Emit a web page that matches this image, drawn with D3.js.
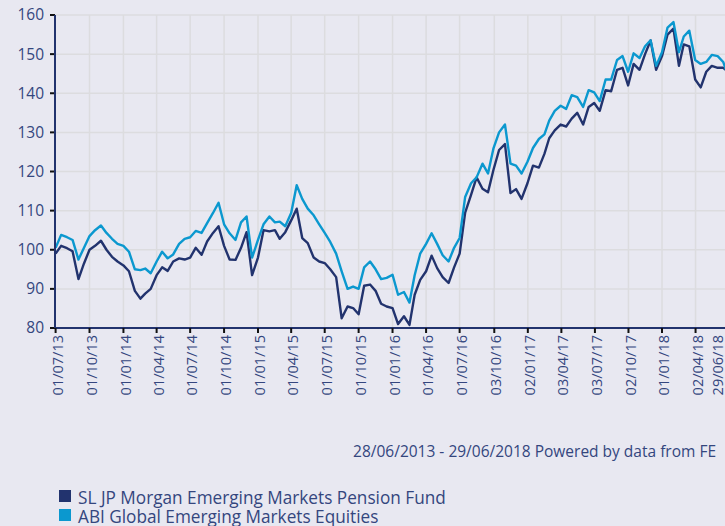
<!DOCTYPE html>
<html>
<head>
<meta charset="utf-8">
<script src="https://cdn.jsdelivr.net/npm/d3@7"></script>
<style>
  html, body { margin: 0; padding: 0; background: #e8e8f1; }
  text { font-family: "Open Sans", "Noto Sans", sans-serif; }
</style>
</head>
<body>
<div id="chart"></div>
<script>
// ============================================
// FUND vs SECTOR PERFORMANCE LINE CHART
// ============================================

var width = 725,
    height = 526;

// semi-monthly observation dates
var dates = [
  "2013-07-01","2013-07-16","2013-08-01","2013-08-16","2013-09-01","2013-09-16","2013-10-01","2013-10-16","2013-11-01","2013-11-16","2013-12-01","2013-12-16",
  "2014-01-01","2014-01-16","2014-02-01","2014-02-16","2014-03-01","2014-03-16","2014-04-01","2014-04-16","2014-05-01","2014-05-16","2014-06-01","2014-06-16",
  "2014-07-01","2014-07-16","2014-08-01","2014-08-16","2014-09-01","2014-09-16","2014-10-01","2014-10-16","2014-11-01","2014-11-16","2014-12-01","2014-12-16",
  "2015-01-01","2015-01-16","2015-02-01","2015-02-16","2015-03-01","2015-03-16","2015-04-01","2015-04-16","2015-05-01","2015-05-16","2015-06-01","2015-06-16",
  "2015-07-01","2015-07-16","2015-08-01","2015-08-16","2015-09-01","2015-09-16","2015-10-01","2015-10-16","2015-11-01","2015-11-16","2015-12-01","2015-12-16",
  "2016-01-01","2016-01-16","2016-02-01","2016-02-16","2016-03-01","2016-03-16","2016-04-01","2016-04-16","2016-05-01","2016-05-16","2016-06-01","2016-06-16",
  "2016-07-01","2016-07-16","2016-08-01","2016-08-16","2016-09-01","2016-09-16","2016-10-01","2016-10-16","2016-11-01","2016-11-16","2016-12-01","2016-12-16",
  "2017-01-01","2017-01-16","2017-02-01","2017-02-16","2017-03-01","2017-03-16","2017-04-01","2017-04-16","2017-05-01","2017-05-16","2017-06-01","2017-06-16",
  "2017-07-01","2017-07-16","2017-08-01","2017-08-16","2017-09-01","2017-09-16","2017-10-01","2017-10-16","2017-11-01","2017-11-16","2017-12-01","2017-12-16",
  "2018-01-01","2018-01-16","2018-02-01","2018-02-16","2018-03-01","2018-03-16","2018-04-01","2018-04-16","2018-05-01","2018-05-16","2018-06-01","2018-06-16",
  "2018-06-29"
];

// SL JP Morgan Emerging Markets Pension Fund
var fundValues = [
  99.0, 101.0, 100.4, 99.6, 92.5, 96.5, 100.0, 101.0, 102.3, 100.0, 98.2, 97.0,
  96.0, 94.5, 89.5, 87.5, 88.8, 90.0, 93.5, 95.5, 94.6, 97.0, 97.8, 97.5,
  98.0, 100.5, 98.7, 102.1, 104.3, 106.0, 101.0, 97.5, 97.4, 100.5, 104.5, 93.5,
  98.0, 105.0, 104.7, 105.0, 102.8, 104.5, 107.5, 110.5, 103.0, 101.7, 98.0, 97.0,
  96.6, 95.0, 93.0, 82.5, 85.5, 85.1, 83.5, 90.8, 91.1, 89.5, 86.2, 85.5,
  85.1, 81.0, 83.0, 80.8, 88.5, 92.3, 94.5, 98.5, 95.3, 93.0, 91.5, 95.5,
  99.0, 109.5, 114.0, 118.5, 115.6, 114.7, 120.5, 125.5, 127.0, 114.5, 115.5, 113.0,
  117.0, 121.5, 121.0, 124.5, 128.5, 130.5, 132.0, 131.5, 133.5, 135.0, 132.0, 136.5,
  137.5, 135.5, 140.8, 140.5, 146.0, 146.5, 142.0, 147.5, 146.0, 150.0, 153.5, 146.0,
  149.5, 155.0, 156.5, 147.0, 152.5, 152.0, 143.5, 141.5, 145.5, 147.0, 146.5, 146.5,
  145.5
];

// ABI Global Emerging Markets Equities
var sectorValues = [
  100.5, 103.8, 103.2, 102.5, 97.5, 100.5, 103.5, 105.0, 106.2, 104.3, 102.8, 101.5,
  101.0, 99.5, 95.0, 94.8, 95.2, 94.0, 97.0, 99.5, 97.8, 98.8, 101.5, 102.8,
  103.2, 104.8, 104.3, 106.8, 109.4, 112.0, 106.5, 104.2, 102.5, 107.0, 108.5, 98.0,
  102.5, 106.5, 108.5, 107.0, 107.2, 106.0, 109.4, 116.5, 113.0, 110.5, 108.8, 106.5,
  104.3, 102.0, 99.0, 94.5, 90.0, 90.6, 90.0, 95.5, 97.0, 95.0, 92.5, 92.8,
  93.6, 88.5, 89.2, 86.5, 93.5, 99.0, 101.5, 104.2, 101.5, 98.6, 97.0, 100.5,
  103.0, 113.5, 117.0, 118.5, 122.0, 119.5, 126.0, 130.0, 132.0, 122.0, 121.5, 119.5,
  122.5, 126.0, 128.3, 129.5, 133.0, 135.5, 136.8, 136.0, 139.5, 139.0, 136.5, 140.8,
  140.2, 138.0, 143.5, 143.5, 148.5, 149.5, 145.5, 150.2, 149.0, 152.0, 153.5, 147.0,
  150.5, 156.8, 158.2, 150.5, 154.5, 156.0, 148.5, 147.5, 148.0, 149.8, 149.5, 148.0,
  144.5
];

var seriesNames = ["SL JP Morgan Emerging Markets Pension Fund", "ABI Global Emerging Markets Equities"];
var seriesColors = ["#22336e", "#0b98cf"];

var xTickDates = [
  "2013-07-01","2013-10-01","2014-01-01","2014-04-01","2014-07-01","2014-10-01","2015-01-01",
  "2015-04-01","2015-07-01","2015-10-01","2016-01-01","2016-04-01","2016-07-01","2016-10-03",
  "2017-01-02","2017-04-03","2017-07-03","2017-10-02","2018-01-01","2018-04-02","2018-06-29"
];
var yTicks = [80, 90, 100, 110, 120, 130, 140, 150, 160];
var footerText = "28/06/2013 - 29/06/2018 Powered by data from FE";

var parseDate = d3.timeParse("%Y-%m-%d");
var fmtTick = d3.timeFormat("%d/%m/%y");

var plot = { left: 55, top: 15, bottom: 328 };

var x = d3.scaleTime()
    .domain([parseDate("2013-06-28"), parseDate("2018-06-29")])
    .range([54.5, 728]);

var y = d3.scaleLinear()
    .domain([80, 160])
    .range([plot.bottom, plot.top]);

var svg = d3.select("#chart")
    .append("svg")
    .attr("width", width)
    .attr("height", height)
    .style("display", "block");

svg.append("rect")
    .attr("width", width)
    .attr("height", height)
    .attr("fill", "#e8e8f1");

svg.append("clipPath")
    .attr("id", "plot-clip")
    .append("rect")
    .attr("x", plot.left)
    .attr("y", plot.top - 2)
    .attr("width", width - plot.left)
    .attr("height", plot.bottom - plot.top + 2);

// Grid
var grid = svg.append("g").attr("class", "grid");

grid.selectAll("line.h")
    .data(yTicks.slice(1))
    .enter()
    .append("line")
    .attr("x1", plot.left)
    .attr("x2", width)
    .attr("y1", d => y(d))
    .attr("y2", d => y(d))
    .attr("stroke", "#dcdcdf")
    .attr("stroke-width", 1.5);

grid.selectAll("line.v")
    .data(xTickDates.slice(1))
    .enter()
    .append("line")
    .attr("x1", d => x(parseDate(d)))
    .attr("x2", d => x(parseDate(d)))
    .attr("y1", plot.top)
    .attr("y2", plot.bottom)
    .attr("stroke", "#dcdcdf")
    .attr("stroke-width", 1.5);

// Lines
var line = d3.line()
    .x((d, i) => x(parseDate(dates[i])))
    .y(d => y(d));

var lines = svg.append("g").attr("clip-path", "url(#plot-clip)");

[fundValues, sectorValues].forEach(function (values, i) {
    lines.append("path")
        .datum(values)
        .attr("fill", "none")
        .attr("stroke", seriesColors[i])
        .attr("stroke-width", 2.4)
        .attr("stroke-linejoin", "round")
        .attr("d", line);
});

// Y axis
var yAxis = svg.append("g");

yAxis.selectAll("line.tick")
    .data(yTicks)
    .enter()
    .append("line")
    .attr("x1", plot.left - 5)
    .attr("x2", plot.left)
    .attr("y1", d => y(d))
    .attr("y2", d => y(d))
    .attr("stroke", "#111")
    .attr("stroke-width", 2);

yAxis.selectAll("text")
    .data(yTicks)
    .enter()
    .append("text")
    .attr("x", plot.left - 11)
    .attr("y", d => y(d))
    .attr("dy", "0.35em")
    .attr("text-anchor", "end")
    .attr("fill", "#34467e")
    .style("font-size", "15.5px")
    .text(d => d);

yAxis.append("line")
    .attr("x1", plot.left)
    .attr("x2", plot.left)
    .attr("y1", plot.top)
    .attr("y2", plot.bottom)
    .attr("stroke", "#22336e")
    .attr("stroke-width", 2);

// X axis
var xAxis = svg.append("g");

xAxis.append("line")
    .attr("x1", plot.left)
    .attr("x2", width)
    .attr("y1", plot.bottom)
    .attr("y2", plot.bottom)
    .attr("stroke", "#22336e")
    .attr("stroke-width", 2);

xAxis.selectAll("line.tick")
    .data(xTickDates)
    .enter()
    .append("line")
    .attr("x1", d => x(parseDate(d)))
    .attr("x2", d => x(parseDate(d)))
    .attr("y1", plot.bottom)
    .attr("y2", plot.bottom + 5)
    .attr("stroke", "#111")
    .attr("stroke-width", 2);

xAxis.selectAll("text")
    .data(xTickDates)
    .enter()
    .append("text")
    .attr("transform", function (d, i) {
        var px = x(parseDate(d)) + 2;
        // last label is pulled in so it stays on the page
        if (i === xTickDates.length - 1) px = Math.min(px, width - 7);
        return "translate(" + px + "," + (plot.bottom + 7) + ") rotate(-90)";
    })
    .attr("dy", "0.35em")
    .attr("text-anchor", "end")
    .attr("fill", "#34467e")
    .style("font-size", "14.5px")
    .text(d => fmtTick(parseDate(d)));

// Footer
svg.append("text")
    .attr("x", 716)
    .attr("y", 457)
    .attr("text-anchor", "end")
    .attr("fill", "#34467e")
    .style("font-size", "15.5px")
    .text(footerText);

// Legend
var legend = svg.append("g")
    .selectAll("g")
    .data(seriesNames)
    .enter()
    .append("g")
    .attr("transform", (d, i) => "translate(59," + (490 + i * 19) + ")");

legend.append("rect")
    .attr("width", 12)
    .attr("height", 12)
    .attr("fill", (d, i) => seriesColors[i]);

legend.append("text")
    .attr("transform", "translate(19,14) scale(0.93,1)")
    .attr("fill", "#34467e")
    .style("font-size", "18.5px")
    .text(d => d);
</script>
</body>
</html>
